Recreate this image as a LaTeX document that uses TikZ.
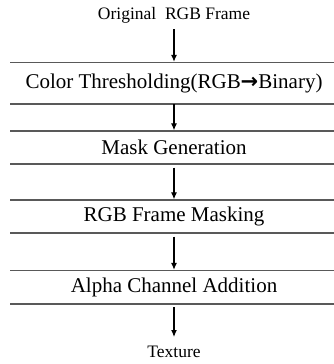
\documentclass[tikz,border=0pt]{standalone}
\usepackage{fontspec}
\setmainfont{Liberation Serif}
\newfontfamily\symfont{DejaVu Sans}
\usetikzlibrary{arrows.meta}
\begin{document}
\begin{tikzpicture}[x=1pt,y=-1pt,
  stage/.style={minimum width=324pt, inner sep=0pt, font=\fontsize{21}{24}\selectfont,
    path picture={
      % half of the rule is clipped by the node, so twice the visible width
      \draw[rulecol, line width=2.6pt]
        (path picture bounding box.north west) -- (path picture bounding box.north east)
        (path picture bounding box.south west) -- (path picture bounding box.south east);}},
  label/.style={inner sep=0pt, font=\fontsize{17.5}{20}\selectfont},
  flow/.style={line width=1.1pt, -{Latex[length=7pt,width=6pt]}}
]
\colorlet{rulecol}{black!65}
\useasboundingbox (0,0) rectangle (334,364);

\node[label] (src) at (174,15) {Original\ \ RGB Frame};
\node[stage, minimum height=42pt] (thr) at (172,83) {\hspace*{4pt}Color Thresholding(RGB{\symfont\bfseries →}Binary)};
\node[stage, minimum height=34pt] (mask) at (172,147.5) {\hspace*{4pt}Mask Generation};
\node[stage, minimum height=34pt] (rgbm) at (172,216.5) {\hspace*{4pt}RGB Frame Masking};
\node[stage, minimum height=34pt] (alpha) at (172,287) {\hspace*{4pt}Alpha Channel Addition};
\node[label] (tex) at (174,352) {Texture};

\coordinate (a1s) at (174,29);
\coordinate (a5e) at (174,337);
\draw[flow] (a1s) -- (a1s |- thr.north);
\draw[flow] (thr.south -| a1s) -- (a1s |- mask.north);
\draw[flow] ([yshift=-3pt]mask.south -| a1s) -- (a1s |- rgbm.north);
\draw[flow] ([yshift=-3pt]rgbm.south -| a1s) -- (a1s |- alpha.north);
\draw[flow] ([yshift=-3pt]alpha.south -| a1s) -- (a5e);
\end{tikzpicture}
\end{document}
